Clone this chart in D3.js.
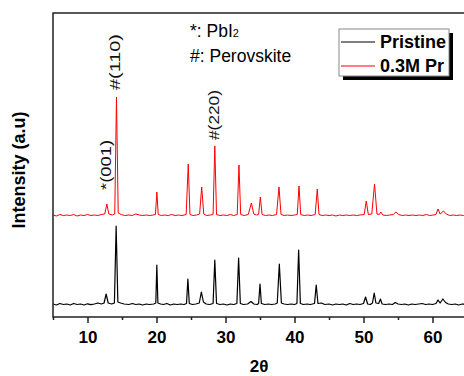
<!DOCTYPE html>
<html><head><meta charset="utf-8">
<script src="https://cdn.jsdelivr.net/npm/d3@7"></script>
<style>body{margin:0;background:#fff}svg{display:block}text{font-family:Arial,"Liberation Sans",sans-serif}</style>
</head><body><svg id="c" width="464" height="376"></svg>
<script>
// 2θ (deg) and intensity (a.u., above each trace's own baseline)
const pristine = [[5,1],[5.5,0],[6,1.5],[6.5,0.5],[7,1],[7.5,0],[8,1.5],[8.5,0.5],[9,1],[9.5,0],[10,1.2],[10.5,0.3],[11,1],[11.5,2],[12,1],[12.4,2],[12.7,11],[13.0,2],[13.5,1],[13.9,2],[14.15,79],[14.4,3],[14.8,2],[15.3,1],[16,0.5],[16.5,1.5],[17,0.5],[17.5,1],[18,0],[18.5,1],[19,0.5],[19.6,1],[19.9,2],[20.05,40],[20.2,2],[20.6,1],[21,0.5],[21.5,1.5],[22,0],[22.5,1],[23,0.5],[23.5,1],[24,0.5],[24.35,1.5],[24.55,26],[24.75,1.5],[25.2,0.5],[25.7,1],[26.2,2],[26.5,13],[26.8,3],[27.2,1],[27.7,0.5],[28.2,1.5],[28.45,45],[28.7,1.5],[29.2,0.5],[29.7,1],[30.2,0],[30.7,1],[31.2,0.5],[31.65,1.5],[31.9,47],[32.15,1.5],[32.6,0.5],[33.2,1],[33.7,3.5],[34.1,1],[34.6,0.5],[34.8,1.5],[35.0,21],[35.2,1.5],[35.7,0.5],[36.2,1],[36.7,0.5],[37.2,1],[37.5,2],[37.8,41],[38.1,2],[38.5,1],[39,0.5],[39.5,1],[40,0.5],[40.35,1.5],[40.6,55],[40.85,1.5],[41.3,0.5],[41.8,1],[42.3,0.5],[42.9,1.5],[43.15,20],[43.4,1.5],[43.9,2],[44.4,0.5],[45,1],[45.5,0],[46,1],[46.5,0.5],[47,1],[47.5,0],[48,1.5],[48.5,0.5],[49,1],[49.5,0.5],[50,1.5],[50.3,8],[50.6,1],[51,0.5],[51.3,2],[51.55,12],[51.8,2],[52.2,1.5],[52.45,6],[52.7,1],[53.2,0.5],[53.7,1],[54.2,0.5],[54.6,2.5],[55,1],[55.5,0.5],[56,1],[56.5,0],[57,1],[57.5,0.5],[58,1],[58.5,1.5],[59,0.5],[59.5,1],[60,0.5],[60.5,1.5],[60.8,5],[61.1,2],[61.5,6],[61.9,2.5],[62.3,1],[62.8,0.5],[63.3,1],[63.8,0],[64.3,1],[65,0.5]];
const pr03 = [[5,1],[5.5,0],[6,1.5],[6.5,0.5],[7,1],[7.5,0.5],[8,1.5],[8.5,0],[9,1],[9.5,0.5],[10,1.5],[10.5,0.5],[11,1],[11.5,0.5],[12,1.5],[12.5,2],[12.8,12],[13.1,2],[13.6,1],[13.95,2],[14.2,119],[14.45,3],[14.9,1.5],[15.4,0.5],[16,1],[16.5,0.5],[17,2],[17.5,1],[18,0.5],[18.5,1],[19,0.5],[19.5,1],[19.85,1.5],[20.05,24],[20.25,1.5],[20.7,0.5],[21.2,1],[21.7,0.5],[22.2,1.5],[22.7,0.5],[23.2,1],[23.7,0.5],[24.3,1.5],[24.6,52],[24.85,1.5],[25.3,0.5],[25.8,1],[26.25,2],[26.55,29],[26.85,2],[27.3,0.5],[27.8,1],[28.2,1.5],[28.45,70],[28.7,1.5],[29.2,0.5],[29.7,1],[30.2,0.5],[30.7,1.5],[31.2,0.5],[31.7,1.5],[31.95,51],[32.2,1.5],[32.7,0.5],[33.3,1.5],[33.75,13],[34.1,2],[34.5,1],[34.8,1.5],[35.05,19],[35.3,1.5],[35.8,0.5],[36.3,1],[36.8,0.5],[37.4,1.5],[37.75,29],[38.05,1.5],[38.5,0.5],[39,1],[39.5,0.5],[40,1],[40.4,1.5],[40.65,30],[40.9,1.5],[41.4,0.5],[41.9,1],[42.4,0.5],[43.0,1.5],[43.3,27],[43.55,1.5],[44,0.5],[44.5,1],[45,0.5],[45.5,1],[46,0],[46.5,1],[47,0.5],[47.5,1],[48,0.5],[48.5,1],[49,0.5],[49.5,1],[50.1,1.5],[50.4,15],[50.7,1.5],[51.2,2],[51.6,32],[51.95,2],[52.3,1.5],[52.5,4],[52.8,1],[53.3,0.5],[53.8,1],[54.3,1.5],[54.7,4],[55.1,1.5],[55.6,0.5],[56.1,1],[56.6,0.5],[57.1,1],[57.6,0.5],[58.1,1],[58.6,0.5],[59.1,1.5],[59.6,0.5],[60.1,1],[60.5,1.5],[60.8,7],[61.1,2],[61.6,5],[62,2],[62.5,0.5],[63,1],[63.5,0.5],[64,1],[64.5,0.5],[65,1]];
const seriesNames = ["Pristine", "0.3M Pr"];
const seriesOffsets = [12, 101];
const seriesColors = ["#000000", "#ff0000"];
const xTicks = [10, 20, 30, 40, 50, 60];
const xMinorTicks = [5, 15, 25, 35, 45, 55, 65];
// label text, 2θ of peak, intensity level where the label starts (red trace)
const peakLabels = [{t:"*(001)", x:12.8, y:26}, {t:"#(110)", x:14.2, y:126}, {t:"#(220)", x:28.45, y:76}];
const noteLines = ["*: PbI", "#: Perovskite"];

const svg = d3.select("#c");
const M = {l:53, t:13, r:467, b:317};
const x = d3.scaleLinear().domain([5, 65]).range([M.l, M.r]);
const y = d3.scaleLinear().domain([0, 304]).range([M.b, M.t]);

svg.append("defs").append("clipPath").attr("id","clip")
  .append("rect").attr("x",M.l).attr("y",M.t).attr("width",M.r-M.l).attr("height",M.b-M.t);

const line = d3.line().x(d=>x(d[0])).y(d=>y(d[1]));
[pristine, pr03].forEach((s,i)=>{
  svg.append("path").attr("clip-path","url(#clip)")
    .datum(s.map(d=>[d[0], d[1]+seriesOffsets[i]]))
    .attr("d", line).attr("fill","none")
    .attr("stroke", seriesColors[i]).attr("stroke-width", i===0?1.2:1)
    .attr("stroke-linejoin","round");
});

// frame
svg.append("rect").attr("x",M.l).attr("y",M.t).attr("width",M.r-M.l).attr("height",M.b-M.t)
  .attr("fill","none").attr("stroke","#222").attr("stroke-width",1.5);

// x axis
const ax = svg.append("g").attr("transform",`translate(0,${M.b})`)
  .call(d3.axisBottom(x).tickValues(xTicks).tickSize(6).tickSizeOuter(0).tickPadding(8));
ax.select(".domain").remove();
ax.selectAll(".tick line").attr("stroke","#222").attr("stroke-width",1.5);
ax.selectAll(".tick text").attr("font-family","Arial, 'Liberation Sans', sans-serif")
  .attr("font-size",17).attr("font-weight","bold").attr("fill","#000");
const axm = svg.append("g").attr("transform",`translate(0,${M.b})`)
  .call(d3.axisBottom(x).tickValues(xMinorTicks).tickSize(3).tickSizeOuter(0).tickFormat(""));
axm.select(".domain").remove();
axm.selectAll(".tick line").attr("stroke","#222").attr("stroke-width",1.5);

svg.append("text").attr("x",259).attr("y",372).attr("text-anchor","middle")
  .attr("font-size",17).attr("font-weight","bold").text("2θ");
svg.append("text").attr("transform","translate(25,170) rotate(-90)").attr("text-anchor","middle")
  .attr("font-size",18).attr("font-weight","bold").text("Intensity (a.u)");

// peak labels
const lens = {"*(001)":50, "#(110)":56, "#(220)":50};
peakLabels.forEach(p=>{
  const cx = x(p.x) + 4;
  const cy = y(p.y + seriesOffsets[1]);
  svg.append("text").attr("transform",`translate(${cx},${cy}) rotate(-90)`)
    .attr("text-anchor","start").attr("font-size",15)
    .attr("textLength", lens[p.t]).attr("lengthAdjust","spacingAndGlyphs")
    .attr("fill","#111").text(p.t);
});

// notes
const n1 = svg.append("text").attr("x",190).attr("y",37).attr("font-size",17.5).text(noteLines[0]);
n1.append("tspan").attr("font-size",11).attr("dy",0).text("2");
svg.append("text").attr("x",190).attr("y",62).attr("font-size",17.5).text(noteLines[1]);

// legend
const L = {x:339, y:29, w:110, h:47};
svg.append("rect").attr("x",L.x+4).attr("y",L.y+4).attr("width",L.w).attr("height",L.h).attr("fill","#000");
svg.append("rect").attr("x",L.x).attr("y",L.y).attr("width",L.w).attr("height",L.h)
  .attr("fill","#fff").attr("stroke","#888").attr("stroke-width",1);
seriesNames.forEach((n,i)=>{
  const yy = L.y + 13 + i*24;
  svg.append("line").attr("x1",L.x+2).attr("x2",L.x+36).attr("y1",yy).attr("y2",yy)
    .attr("stroke",seriesColors[i]).attr("stroke-width",1.2);
  svg.append("text").attr("x",L.x+41).attr("y",yy+6).attr("font-size",18).attr("font-weight","bold").text(n);
});
</script></body></html>
